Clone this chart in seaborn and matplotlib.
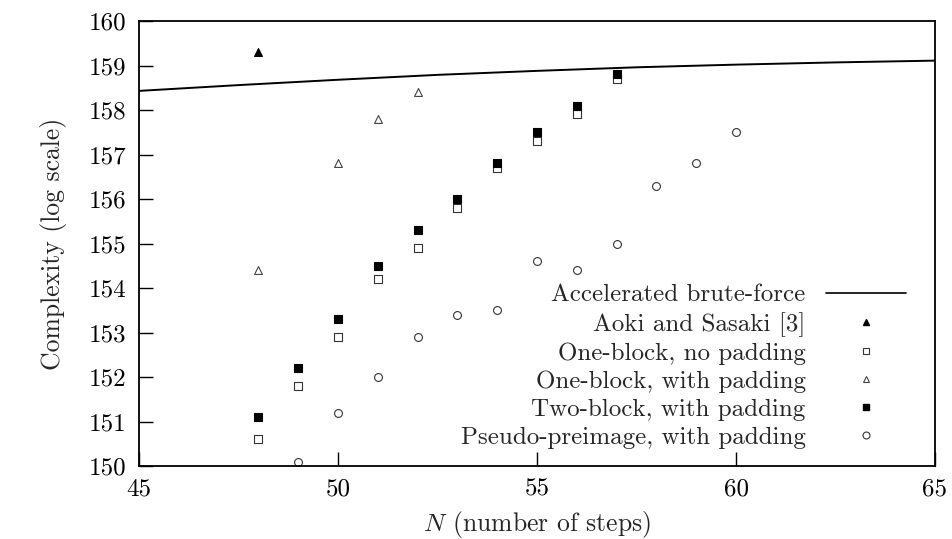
import matplotlib
matplotlib.use("Agg")
import matplotlib.pyplot as plt
import seaborn as sns
import pandas as pd
from matplotlib.lines import Line2D

# ---- data ----
bf_n = [45, 47.5, 50, 52.5, 55, 57.5, 60, 62.5, 65]
bf_c = [158.43, 158.56, 158.68, 158.79, 158.88, 158.96, 159.02, 159.07, 159.11]

aoki_n = [48]
aoki_c = [159.3]

ob_np_n = [48, 49, 50, 51, 52, 53, 54, 55, 56, 57]
ob_np_c = [150.6, 151.8, 152.9, 154.2, 154.9, 155.8, 156.7, 157.3, 157.9, 158.7]

ob_wp_n = [48, 50, 51, 52]
ob_wp_c = [154.4, 156.8, 157.8, 158.4]

tb_wp_n = [48, 49, 50, 51, 52, 53, 54, 55, 56, 57]
tb_wp_c = [151.1, 152.2, 153.3, 154.5, 155.3, 156.0, 156.8, 157.5, 158.1, 158.8]

pp_n = [49, 50, 51, 52, 53, 54, 55, 56, 57, 58, 59, 60]
pp_c = [150.1, 151.2, 152.0, 152.9, 153.4, 153.5, 154.6, 154.4, 155.0, 156.3, 156.8, 157.5]

labels = ["Accelerated brute-force", "Aoki and Sasaki [3]", "One-block, no padding",
          "One-block, with padding", "Two-block, with padding", "Pseudo-preimage, with padding"]
x_ticks = [45, 50, 55, 60, 65]
y_ticks = [150, 151, 152, 153, 154, 155, 156, 157, 158, 159, 160]

sns.set_theme(style="white")
plt.rcParams["font.family"] = ["cmr10", "DejaVu Serif"]
plt.rcParams["mathtext.fontset"] = "cm"
plt.rcParams["axes.formatter.use_mathtext"] = True

fig = plt.figure(figsize=(9.53, 5.39), dpi=100)
ax = fig.add_axes([0.1459, 0.1354, 0.9811 - 0.1459, 0.961 - 0.1354])

sns.lineplot(x=bf_n, y=bf_c, ax=ax, color="black", linewidth=1.4, legend=False)

mk = dict(s=32, linewidth=0.8, legend=False)
sns.scatterplot(x=aoki_n, y=aoki_c, ax=ax, marker="^", color="black", edgecolor="black", **mk)
sns.scatterplot(x=ob_np_n, y=ob_np_c, ax=ax, marker="s", facecolor="white", edgecolor="#333333", **mk)
sns.scatterplot(x=ob_wp_n, y=ob_wp_c, ax=ax, marker="^", facecolor="white", edgecolor="#444444", **mk)
sns.scatterplot(x=tb_wp_n, y=tb_wp_c, ax=ax, marker="s", color="black", edgecolor="black", **mk)
sns.scatterplot(x=pp_n, y=pp_c, ax=ax, marker="o", facecolor="white", edgecolor="#333333", **mk)

ax.set_xlim(45, 65)
ax.set_ylim(150, 160)
ax.set_xticks(x_ticks)
ax.set_yticks(y_ticks)
ax.set_xticklabels([str(t) for t in x_ticks])
ax.set_yticklabels([str(t) for t in y_ticks])
ax.tick_params(axis="both", direction="in", length=10, width=1.0, labelsize=18,
               colors="black", pad=9, top=False, right=False, bottom=True, left=True)
for s in ax.spines.values():
    s.set_color("black")
    s.set_linewidth(1.3)

ax.set_xlabel(r"$N$ (number of steps)", fontsize=18.5, labelpad=6)
ax.set_ylabel("Complexity (log scale)", fontsize=18.5, labelpad=16)

handles = [
    Line2D([], [], color="black", linewidth=1.2),
    Line2D([], [], linestyle="none", marker="^", markersize=5, color="black"),
    Line2D([], [], linestyle="none", marker="s", markersize=5, markerfacecolor="white", markeredgecolor="#333333", markeredgewidth=0.8),
    Line2D([], [], linestyle="none", marker="^", markersize=5, markerfacecolor="white", markeredgecolor="#444444", markeredgewidth=0.8),
    Line2D([], [], linestyle="none", marker="s", markersize=5, color="black"),
    Line2D([], [], linestyle="none", marker="o", markersize=5, markerfacecolor="white", markeredgecolor="#333333", markeredgewidth=0.8),
]
leg = ax.legend(handles, labels, loc="lower right", bbox_to_anchor=(0.985, 0.0), frameon=False,
                markerfirst=False, fontsize=18, handlelength=3.2, handletextpad=0.8,
                labelspacing=0.22, borderaxespad=0.3)
for t in leg.get_texts():
    t.set_ha("right")
leg._legend_box.align = "right"

fig.savefig("out.png", dpi=100)
